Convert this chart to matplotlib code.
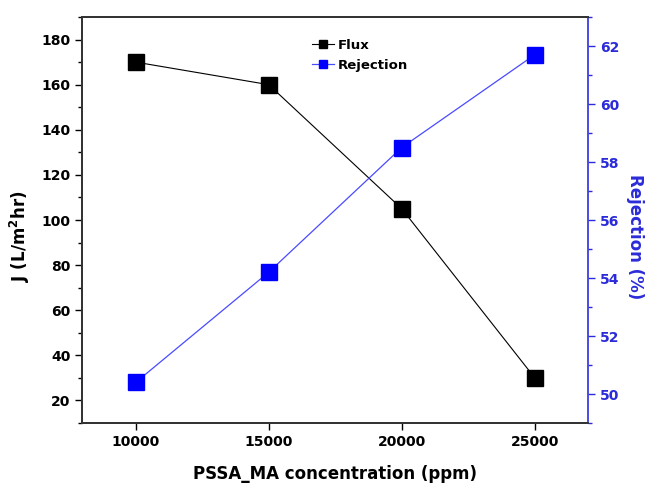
import matplotlib
matplotlib.use('Agg')
import matplotlib.pyplot as plt
from matplotlib.ticker import MultipleLocator

# data
concentration = [10000, 15000, 20000, 25000]
flux = [170, 160, 105, 30]
rejection = [50.4, 54.2, 58.5, 61.7]

plt.rcParams['font.family'] = 'DejaVu Sans'
plt.rcParams['font.weight'] = 'bold'

fig = plt.figure(figsize=(6.47, 4.84), dpi=100)
ax = fig.add_axes([82.5 / 647, 1 - 423 / 484, (588 - 82.5) / 647, (423 - 17) / 484])
ax2 = ax.twinx()

l1, = ax.plot(concentration, flux, color='black', lw=0.8, marker='s',
              ms=11, mfc='black', mec='black', label='Flux')
l2, = ax2.plot(concentration, rejection, color='#4a4aff', lw=0.9, marker='s',
               ms=11, mfc='#0000ff', mec='#0000ff', label='Rejection')

ax.set_xlim(8000, 27000)
ax.set_ylim(10, 190)
ax2.set_ylim(49, 63)

ax.set_xticks([10000, 15000, 20000, 25000])
ax.yaxis.set_major_locator(MultipleLocator(20))
ax.yaxis.set_minor_locator(MultipleLocator(10))
ax.set_yticks(range(20, 181, 20))
ax2.set_yticks(range(50, 63, 2))
ax2.yaxis.set_minor_locator(MultipleLocator(1))

ax.tick_params(axis='both', which='major', direction='out', length=5,
               width=1, labelsize=10)
ax.tick_params(axis='y', which='minor', direction='out', length=3, width=1)
ax.tick_params(axis='x', which='minor', bottom=False)

blue = '#2b2bd9'
ax2.tick_params(axis='y', which='major', direction='out', length=5, width=1,
                colors=blue, labelsize=10)
ax2.tick_params(axis='y', which='minor', direction='out', length=3, width=1,
                colors=blue)
for lab in ax2.get_yticklabels():
    lab.set_fontweight('bold')

for s in ['left', 'bottom', 'top']:
    ax.spines[s].set_color('#333333')
    ax.spines[s].set_linewidth(1.3)
    ax2.spines[s].set_color('#333333')
    ax2.spines[s].set_linewidth(1.3)
ax2.spines['right'].set_color('#3d3de0')
ax2.spines['right'].set_linewidth(1.3)
ax.spines['right'].set_visible(False)

ax.set_xlabel('PSSA_MA concentration (ppm)', fontsize=12, fontweight='bold')
ax.xaxis.set_label_coords(0.5, -0.103)
ax.set_ylabel('J (L/m$^\\mathbf{2}$hr)', fontsize=12, fontweight='bold')
ax.yaxis.set_label_coords(-0.1, 0.46)
ax2.set_ylabel('Rejection (%)', fontsize=12, fontweight='bold', color=blue,
               rotation=270)
ax2.yaxis.set_label_coords(1.11, 0.46)

ax.legend([l1, l2], ['Flux', 'Rejection'], loc='upper left',
          bbox_to_anchor=(0.43, 0.975), frameon=False,
          handlelength=1.7, handletextpad=0.3, labelspacing=0.5,
          markerscale=0.55, prop={'weight': 'bold', 'size': 9.5})

fig.savefig('out.png', dpi=100)
